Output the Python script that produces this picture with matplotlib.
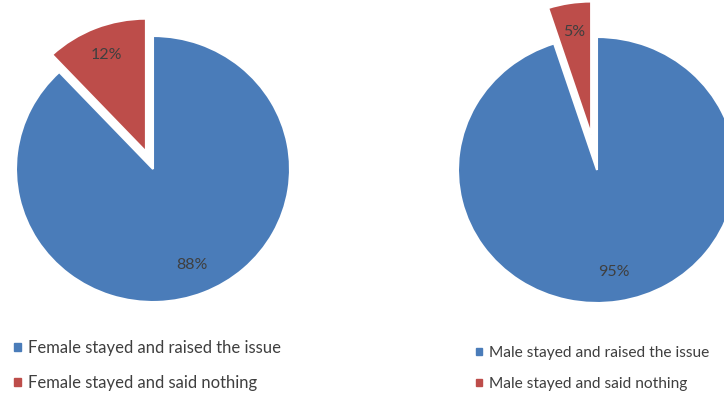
import matplotlib
matplotlib.use('Agg')
import matplotlib.pyplot as plt
from matplotlib.patches import Patch

# Shares of staff who stayed, by gender
female_labels = ['Female stayed and raised the issue', 'Female stayed and said nothing']
female_values = [88, 12]
male_labels = ['Male stayed and raised the issue', 'Male stayed and said nothing']
male_values = [95, 5]

BLUE = '#4A7CB9'
RED = '#BD4D4A'
TEXT = '#3F3F3F'

W, H = 724, 396
fig = plt.figure(figsize=(W / 100, H / 100), dpi=100)
plt.rcParams['font.family'] = ['Lato', 'DejaVu Sans']


def pie_axes(box):
    """Axes over a pixel box (x0, y0, x1, y1), y measured from the top."""
    x0, y0, x1, y1 = box
    ax = fig.add_axes([x0 / W, 1 - y1 / H, (x1 - x0) / W, (y1 - y0) / H])
    return ax


def draw_pie(ax, box, cx, cy, rx, ry, values, explode):
    ax.pie(values, explode=[0, explode], colors=[BLUE, RED],
           startangle=90, counterclock=False, autopct='%d%%',
           pctdistance=0.78, frame=True,
           wedgeprops=dict(edgecolor='white', linewidth=1.5),
           textprops=dict(color=TEXT, fontsize=11.5))
    # unit circle sits at (cx, cy) with radii rx, ry in pixels
    x0, y0, x1, y1 = box
    ax.set_aspect('auto')
    ax.set_xlim((x0 - cx) / rx, (x1 - cx) / rx)
    ax.set_ylim((cy - y1) / ry, (cy - y0) / ry)
    ax.axis('off')


box1 = (0, 0, 340, 320)
ax1 = pie_axes(box1)
draw_pie(ax1, box1, 153, 169, 137, 133, female_values, 0.14)

box2 = (380, 0, 724, 320)
ax2 = pie_axes(box2)
draw_pie(ax2, box2, 597, 170, 139, 133, male_values, 0.27)

# Legends under each pie
legend_kw = dict(frameon=False, handlelength=0.4, handleheight=0.4,
                 handletextpad=0.45, labelcolor=TEXT,
                 borderpad=0, borderaxespad=0)
fig.legend([Patch(color=BLUE), Patch(color=RED)], female_labels,
           loc='upper left', bbox_to_anchor=(14 / W, 1 - 340 / H),
           fontsize=12, labelspacing=1.15, **legend_kw)
fig.legend([Patch(color=BLUE), Patch(color=RED)], male_labels,
           loc='upper left', bbox_to_anchor=(476 / W, 1 - 346 / H),
           fontsize=11.2, labelspacing=1.1, **legend_kw)

fig.savefig('out.png', dpi=100, facecolor='white')
